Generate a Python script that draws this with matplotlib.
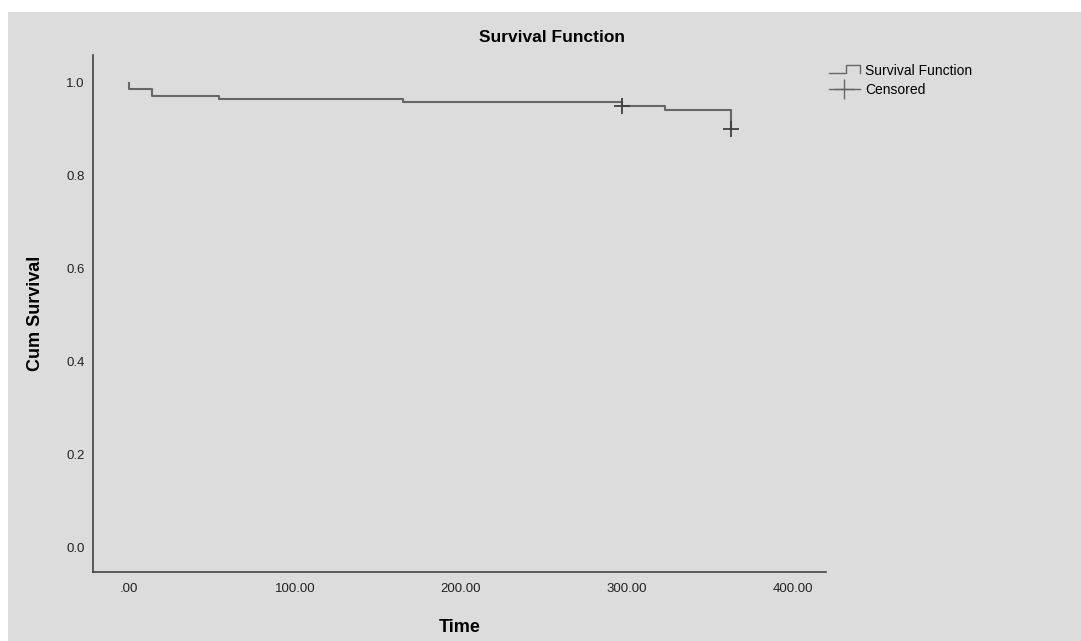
import matplotlib
matplotlib.use("Agg")
import matplotlib.pyplot as plt
from matplotlib.lines import Line2D
from matplotlib.legend_handler import HandlerBase
from matplotlib.patches import Rectangle

# ---- data ----
event_times = [0, 14, 54, 165, 297, 323, 363]
surv_after = [0.986, 0.972, 0.965, 0.958, 0.950, 0.942, 0.900]
start_surv = 1.0
cens_times = [297, 363]
cens_surv = [0.950, 0.900]
x_ticks = [0, 100, 200, 300, 400]
x_tick_labels = [".00", "100.00", "200.00", "300.00", "400.00"]
y_ticks = [0.0, 0.2, 0.4, 0.6, 0.8, 1.0]
y_tick_labels = ["0.0", "0.2", "0.4", "0.6", "0.8", "1.0"]

BG = "#dcdcdc"
LINE = "#666666"
plt.rcParams["font.family"] = ["Liberation Sans", "DejaVu Sans"]

fig = plt.figure(figsize=(10.81, 6.41), dpi=100, facecolor="white")
bg_rect = Rectangle((8 / 1081, 0), 1 - 8 / 1081, 1 - 12 / 641,
                    transform=fig.transFigure, facecolor=BG,
                    edgecolor="none", zorder=-10)
fig.patches.append(bg_rect)

ax = fig.add_axes([93 / 1081, 1 - 572 / 641, (826 - 93) / 1081, (572 - 55) / 641])
ax.set_zorder(1)
ax.set_facecolor(BG)

xs = [event_times[0]] + event_times
ys = [start_surv] + surv_after
ax.step(xs, ys, where="post", color=LINE, lw=1.5)
ax.plot(cens_times, cens_surv, linestyle="none", marker="+", ms=12,
        mew=1.3, color="#404040")

ax.set_xlim(-21.7, 420)
ax.set_ylim(-0.052, 1.06)
ax.set_xticks(x_ticks)
ax.set_xticklabels(x_tick_labels)
ax.set_yticks(y_ticks)
ax.set_yticklabels(y_tick_labels)
ax.tick_params(length=0, labelsize=9.5, colors="#222222")
ax.tick_params(axis="x", pad=8)
ax.tick_params(axis="y", pad=6)
for s in ["top", "right"]:
    ax.spines[s].set_visible(False)
for s in ["left", "bottom"]:
    ax.spines[s].set_color("#444444")
    ax.spines[s].set_linewidth(1.2)

ax.set_xlabel("Time", fontsize=13, fontweight="bold", labelpad=17)
ax.set_ylabel("Cum Survival", fontsize=13, fontweight="bold", labelpad=16)
fig.text(552 / 1081, 1 - 38 / 641, "Survival Function", ha="center",
         va="center", fontsize=12.5, fontweight="bold", zorder=5)


class StepHandler(HandlerBase):
    def create_artists(self, legend, orig_handle, xdescent, ydescent,
                       width, height, fontsize, trans):
        x0, x1 = -xdescent, -xdescent + width
        ym = height / 2 - ydescent
        xs_ = [x0, x0 + 0.55 * width, x0 + 0.55 * width, x1, x1]
        ys_ = [ym - 2, ym - 2, ym + 4, ym + 4, ym - 2]
        ln = Line2D(xs_, ys_, color=LINE, lw=1.0, transform=trans)
        return [ln]


h1 = Line2D([], [], color=LINE)
h2 = Line2D([], [], color=LINE, marker="+", ms=14, mew=1.0, lw=1.0)
leg = fig.legend([h1, h2], ["Survival Function", "Censored"],
                 handler_map={h1: StepHandler()},
                 loc="upper left", bbox_to_anchor=(822 / 1081, 1 - 57 / 641),
                 frameon=False, fontsize=10, handlelength=2.2, handletextpad=0.4,
                 labelspacing=0.35, borderpad=0)
leg.set_zorder(5)

fig.savefig("out.png", dpi=100, facecolor="white")
